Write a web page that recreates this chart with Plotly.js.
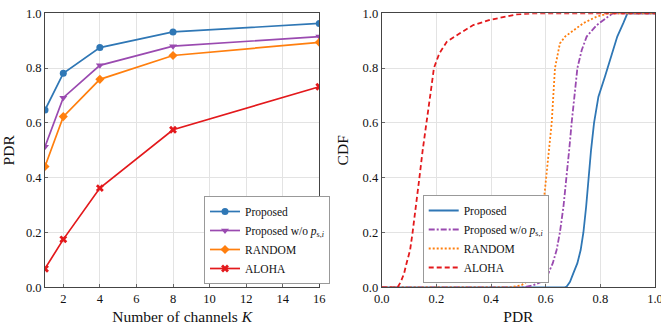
<!DOCTYPE html>
<html>
<head>
<meta charset="utf-8">
<script src="https://cdn.plot.ly/plotly-3.0.1.min.js"></script>
<style>html,body{margin:0;padding:0;background:#fff;}#chart{width:661px;height:325px;}</style>
</head>
<body>
<div id="chart"></div>
<script>
// Left panel: PDR vs number of channels
const channels = [1, 2, 4, 8, 16];
const pdrProposed = [0.647, 0.781, 0.875, 0.932, 0.963];
const pdrWithout = [0.513, 0.692, 0.810, 0.880, 0.915];
const pdrRandom = [0.441, 0.623, 0.759, 0.846, 0.894];
const pdrAloha = [0.068, 0.175, 0.362, 0.575, 0.732];
const channelTicks = [2, 4, 6, 8, 10, 12, 14, 16];
const channelTickText = ['2', '4', '6', '8', '10', '12', '14', '16'];
const unitTicks = [0, 0.2, 0.4, 0.6, 0.8, 1.0];
const unitTickText = ['0.0', '0.2', '0.4', '0.6', '0.8', '1.0'];

// Right panel: CDF of PDR
const cdfProposedX = [0, 0.67, 0.677, 0.689, 0.701, 0.716, 0.728, 0.738, 0.748, 0.756, 0.766, 0.777, 0.793, 0.817, 0.826, 0.848, 0.862, 0.884, 0.899, 1.0];
const cdfProposedY = [0, 0, 0.003, 0.02, 0.051, 0.088, 0.136, 0.2, 0.294, 0.4, 0.501, 0.6, 0.696, 0.769, 0.8, 0.866, 0.915, 0.964, 1, 1];
const cdfWithoutX = [0, 0.52, 0.555, 0.585, 0.61, 0.626, 0.64, 0.652, 0.665, 0.677, 0.686, 0.695, 0.705, 0.716, 0.732, 0.75, 0.787, 0.817, 0.845, 1.0];
const cdfWithoutY = [0, 0, 0.008, 0.02, 0.051, 0.088, 0.136, 0.2, 0.294, 0.4, 0.501, 0.6, 0.708, 0.8, 0.866, 0.915, 0.957, 0.981, 1, 1];
const cdfRandomX = [0, 0.47, 0.512, 0.53, 0.549, 0.561, 0.573, 0.582, 0.591, 0.601, 0.613, 0.622, 0.634, 0.652, 0.671, 0.738, 0.787, 0.83, 1.0];
const cdfRandomY = [0, 0, 0.008, 0.02, 0.051, 0.088, 0.136, 0.2, 0.294, 0.4, 0.501, 0.6, 0.8, 0.89, 0.915, 0.964, 0.988, 1, 1];
const cdfAlohaX = [0, 0.058, 0.07, 0.082, 0.091, 0.104, 0.113, 0.126, 0.138, 0.15, 0.165, 0.177, 0.187, 0.191, 0.211, 0.238, 0.286, 0.335, 0.396, 0.457, 0.494, 0.55, 1.0];
const cdfAlohaY = [0, 0, 0.02, 0.051, 0.088, 0.136, 0.2, 0.294, 0.4, 0.501, 0.6, 0.696, 0.769, 0.8, 0.854, 0.896, 0.927, 0.957, 0.976, 0.988, 0.996, 1, 1];

const names = ['Proposed', 'Proposed w/o <i>p</i><sub>s,<i>i</i></sub>', 'RANDOM', 'ALOHA'];
const colors = ['#2f77b5', '#9a4ab0', '#ff7f0e', '#e3191c'];
const symbols = ['circle', 'triangle-down', 'diamond', 'x'];
const dashes = ['solid', '6px,2px,2px,2px', '2px,2px', '5px,3px'];
const pdrSeries = [pdrProposed, pdrWithout, pdrRandom, pdrAloha];
const cdfSeries = [[cdfProposedX, cdfProposedY], [cdfWithoutX, cdfWithoutY], [cdfRandomX, cdfRandomY], [cdfAlohaX, cdfAlohaY]];

const traces = [];
pdrSeries.forEach((ys, i) => {
  traces.push({x: channels, y: ys, type: 'scatter', mode: 'lines+markers', name: names[i],
    line: {color: colors[i], width: 1.7}, marker: {symbol: symbols[i], size: 7, color: colors[i]},
    xaxis: 'x', yaxis: 'y', legend: 'legend'});
});
cdfSeries.forEach((s, i) => {
  traces.push({x: s[0], y: s[1], type: 'scatter', mode: 'lines', name: names[i],
    line: {color: colors[i], width: 1.8, dash: dashes[i]}, xaxis: 'x2', yaxis: 'y2', legend: 'legend2'});
});

const font = {family: 'Liberation Serif, DejaVu Serif, serif', color: '#111'};
const axisCommon = {showline: true, mirror: true, linecolor: '#444', linewidth: 1, gridcolor: '#e3e3e3', zeroline: false,
  ticks: 'inside', ticklen: 3, tickcolor: '#666', tickmode: 'array', ticklabeloverflow: 'allow',
  tickfont: {family: font.family, size: 12.5, color: '#111'}};
const yDom = [1 - 287.3 / 325, 1 - 13.3 / 325];

const layout = {
  width: 661, height: 325, margin: {l: 0, r: 0, t: 0, b: 0}, font: font, showlegend: true,
  xaxis: Object.assign({}, axisCommon, {domain: [45 / 661, 319.3 / 661], range: [1, 16], tickvals: channelTicks, ticktext: channelTickText,
    title: {text: 'Number of channels <i>K</i>', font: {family: font.family, size: 15.5}, standoff: 6}}),
  yaxis: Object.assign({}, axisCommon, {domain: yDom, range: [0, 1], tickvals: unitTicks, ticktext: unitTickText,
    title: {text: 'PDR', font: {family: font.family, size: 15.5}, standoff: 10}}),
  xaxis2: Object.assign({}, axisCommon, {domain: [381.7 / 661, 655 / 661], range: [0, 1], tickvals: unitTicks, ticktext: unitTickText, anchor: 'y2',
    title: {text: 'PDR', font: {family: font.family, size: 15.5}, standoff: 6}}),
  yaxis2: Object.assign({}, axisCommon, {domain: yDom, range: [0, 1], tickvals: unitTicks, ticktext: unitTickText, anchor: 'x2',
    title: {text: 'CDF', font: {family: font.family, size: 15.5}, standoff: 10}}),
  legend: {x: 204 / 661, y: 1 - 284 / 325, xanchor: 'left', yanchor: 'bottom', bgcolor: '#fff', bordercolor: '#999', borderwidth: 1,
    font: {family: font.family, size: 11.5, color: '#111'}, itemwidth: 30},
  legend2: {x: 422.7 / 661, y: 1 - 283 / 325, xanchor: 'left', yanchor: 'bottom', bgcolor: '#fff', bordercolor: '#999', borderwidth: 1,
    font: {family: font.family, size: 11.5, color: '#111'}, itemwidth: 30}
};

Plotly.newPlot('chart', traces, layout, {staticPlot: true}).then(() => {
  // force a layout pass on all texts so every tick label is painted
  document.querySelectorAll('#chart text').forEach(t => { t.getBBox(); getComputedStyle(t).display; });
  document.body.offsetHeight;
});
</script>
</body>
</html>
